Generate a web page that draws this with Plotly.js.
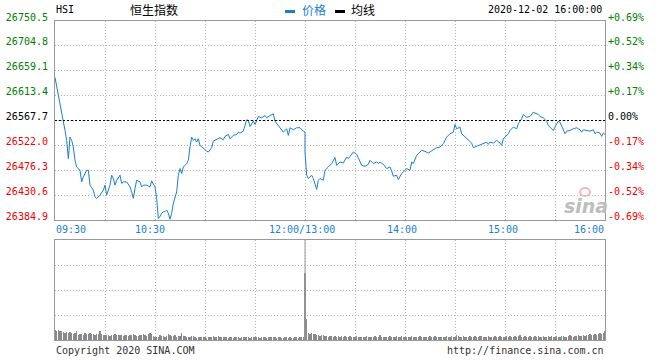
<!DOCTYPE html>
<html><head><meta charset="utf-8">
<script src="https://cdn.plot.ly/plotly-3.0.1.min.js"></script>
<style>html,body{margin:0;padding:0;background:#fff}#chart{width:660px;height:360px}</style>
</head><body><div id="chart"></div>
<script>
// ---------------- data ----------------
const indexCode = "HSI";
const indexName = "恒生指数";
const stamp = "2020-12-02 16:00:00";
const prevClose = 26567.7;

const priceTimes = ["09:30","09:32","09:33","09:34","09:35","09:36","09:37","09:38","09:39","09:40","09:41","09:42","09:43","09:45","09:46","09:47","09:49","09:50","09:51","09:53","09:54","09:55","09:57","09:59","10:00","10:01","10:03","10:04","10:05","10:06","10:07","10:09","10:10","10:11","10:13","10:15","10:16","10:17","10:18","10:19","10:21","10:22","10:23","10:25","10:27","10:28","10:29","10:30","10:31","10:32","10:33","10:34","10:35","10:36","10:37","10:38","10:39","10:40","10:41","10:43","10:44","10:45","10:46","10:47","10:49","10:50","10:51","10:52","10:53","10:54","10:55","10:56","10:57","10:59","11:01","11:02","11:04","11:05","11:07","11:09","11:11","11:12","11:14","11:15","11:17","11:19","11:20","11:21","11:23","11:24","11:25","11:26","11:27","11:29","11:30","11:32","11:34","11:36","11:37","11:39","11:41","11:42","11:44","11:46","11:47","11:49","11:50","11:51","11:53","11:55","11:57","11:59","12:00",
"13:00","13:01","13:02","13:04","13:05","13:07","13:08","13:09","13:11","13:12","13:14","13:16","13:18","13:19","13:21","13:23","13:25","13:26","13:27","13:29","13:31","13:32","13:34","13:36","13:38","13:39","13:41","13:43","13:44","13:45","13:47","13:49","13:51","13:52","13:53","13:55","13:56","13:58","13:59","14:01","14:03","14:04","14:05","14:07","14:08","14:10","14:12","14:14","14:16","14:19","14:21","14:23","14:25","14:27","14:29","14:30","14:31","14:33","14:34","14:36","14:38","14:40","14:41","14:43","14:45","14:47","14:49","14:50","14:51","14:53","14:55","14:57","14:58","14:59","15:01","15:02","15:03","15:05","15:07","15:08","15:10","15:11","15:13","15:15","15:17","15:19","15:20","15:21","15:23","15:25","15:26","15:28","15:29","15:31","15:32","15:33","15:35","15:36","15:37","15:39","15:41","15:43","15:45","15:46","15:47","15:49","15:51","15:53","15:54","15:55","15:57","15:58","15:59","16:00"];
const priceValues = [26646.9,26616.5,26598.8,26580.5,26567.7,26549.4,26531.1,26497.7,26537.2,26531.1,26518.9,26494.6,26482.3,26476.3,26454.9,26464.1,26476.3,26476.3,26448.9,26439.7,26427.5,26424.6,26430.6,26439.7,26448.9,26430.6,26448.9,26467.2,26461.1,26448.9,26458.0,26467.2,26452.0,26454.9,26454.9,26445.8,26436.6,26424.6,26442.8,26458.0,26454.9,26445.8,26448.9,26448.9,26445.8,26456.7,26450.7,26445.8,26424.6,26387.9,26390.9,26397.2,26400.1,26400.1,26403.2,26397.2,26386.2,26397.2,26415.4,26436.6,26467.2,26479.4,26470.3,26482.3,26488.5,26494.6,26518.9,26537.2,26531.1,26534.2,26528.0,26534.2,26522.0,26516.0,26511.6,26509.8,26517.8,26529.9,26532.4,26536.1,26532.4,26538.5,26542.1,26534.2,26540.3,26542.1,26546.3,26544.5,26548.1,26556.7,26569.0,26567.7,26556.7,26566.4,26560.4,26575.0,26572.6,26576.8,26572.6,26576.8,26579.9,26566.4,26558.6,26549.4,26546.3,26552.5,26540.3,26554.4,26550.7,26554.4,26554.4,26548.1,26546.3,
26509.8,26467.2,26461.1,26467.2,26461.1,26441.0,26458.0,26461.1,26458.0,26476.3,26482.3,26488.5,26499.5,26485.4,26491.5,26489.6,26500.6,26497.7,26501.9,26509.8,26505.5,26497.7,26485.4,26483.6,26487.3,26494.6,26488.5,26491.5,26488.5,26491.5,26487.3,26479.4,26482.3,26475.0,26465.3,26467.2,26459.3,26470.3,26473.2,26479.4,26476.3,26491.5,26488.5,26503.7,26506.8,26512.9,26511.0,26507.9,26512.0,26517.8,26518.9,26525.1,26537.2,26543.4,26546.3,26560.4,26552.5,26555.5,26543.4,26537.2,26532.4,26526.2,26517.8,26520.2,26523.8,26525.1,26528.0,26523.8,26528.0,26526.2,26531.1,26526.2,26522.0,26534.2,26540.3,26543.4,26549.4,26555.5,26552.5,26561.7,26570.8,26578.7,26573.7,26575.0,26582.9,26581.0,26578.7,26575.0,26572.6,26566.4,26558.6,26552.5,26549.4,26561.7,26566.4,26564.6,26552.5,26543.4,26548.1,26549.4,26552.5,26554.4,26550.7,26546.3,26550.7,26549.4,26548.1,26550.7,26543.4,26546.3,26544.5,26538.5,26544.5,26542.1];

// per-minute volume (relative units), 09:30..12:00 and 13:00..16:00
const amVolume = [10,9,10,9,9,8,7,8,7,8, 7,6,7,9,5,6,6,5,7,6, 6,7,6,6,5,6,6,9,6,5, 5,5,5,4,5,5,6,5,5,5,
 5,4,5,5,4,5,5,6,5,4, 4,5,5,6,5,4,6,7,6,4, 3,3,3,5,4,4,3,4,6,5, 4,4,5,3,4,4,7,4,4,3,
 3,3,4,4,3,2,3,3,3,3, 3,2,3,3,3,4,3,3,4,3, 3,3,3,3,2,3,3,2,3,3, 3,2,3,3,3,3,3,2,3,3,
 3,3,3,2,3,3,3,2,3,3, 3,3,3,2,3,3,2,2,3,3, 2,3,2,2,3,3,2,3,3,3, 4];
const pmVolume = [63,21,7, 6,7,6,6,5,5,4,5,5,4, 4,3,4,4,3,4,3,4,3,4, 3,4,3,3,4,3,3,3,4,3,
 3,3,3,3,4,3,3,3,3,4, 3,3,5,3,3,3,3,3,4,3, 3,3,4,3,3,4,3,3,3,3, 3,4,3,3,3,3,4,3,3,3,
 3,3,4,3,3,4,3,3,3,3, 3,3,4,3,3,4,3,3,5,4, 3,3,4,3,3,3,4,3,3,4, 3,3,4,4,3,3,3,4,3,3,
 3,4,3,3,4,3,3,3,4,3, 4,3,3,4,3,4,5,3,3,4, 3,3,4,3,3,4,3,4,3,3, 4,3,3,4,3,4,3,3,4,3,
 3,4,4,3,3,4,5,4,3,4, 4,5,4,4,5,4,5,5,6,5, 5,6,5,6,7,6,7,9];

const priceTicks = [26384.9,26430.6,26476.3,26522.0,26567.7,26613.4,26659.1,26704.8,26750.5];
const priceTickLabels = ["26384.9","26430.6","26476.3","26522.0","26567.7","26613.4","26659.1","26704.8","26750.5"];
const pctTickLabels = ["-0.69%","-0.52%","-0.34%","-0.17%","0.00%","+0.17%","+0.34%","+0.52%","+0.69%"];
const timeTickTimes = ["09:30","10:30","12:00","14:00","15:00","16:00"];
const timeTickLabels = ["09:30","10:30","12:00/13:00","14:00","15:00","16:00"];
const gridTimes = ["09:30","10:00","10:30","11:00","11:30","12:00","13:30","14:00","14:30","15:00","15:30","16:00"];
const legendNames = ["价格","均线"];
const footLeft = "Copyright 2020 SINA.COM";
const footRight = "http://finance.sina.com.cn";

// ---------------- helpers ----------------
function sessionMinute(t){
  const p = t.split(':').map(Number); const mm = p[0]*60+p[1];
  return mm <= 720 ? mm - 570 : mm - 780 + 150;
}
const W=660,H=360,ML=55,MR=55,MT=21,MB=20;
const PW=W-ML-MR, PH=H-MT-MB;
const px = x => (x-ML)/PW;
const py = y => (H-MB-y)/PH;
const GREEN='#008000', RED='#f00000', BLUE='#1a7fd0', GRID='#b4b4b4', BORDER='#9a9a9a';
const colorFor = v => v>prevClose+1e-6 ? GREEN : (v<prevClose-1e-6 ? RED : '#000');
const MONO='DejaVu Sans Mono', CJK='Noto Sans CJK SC';

const priceX = priceTimes.map(sessionMinute);
const volX = amVolume.map((v,i)=>i).concat(pmVolume.map((v,j)=>150+j));
const volY = amVolume.concat(pmVolume);

const traces = [
  {type:'bar', x:volX, y:volY, xaxis:'x2', yaxis:'y2', width:0.7,
   marker:{color:'#8a8a8a', line:{width:0}}, hoverinfo:'skip', showlegend:false},
  {type:'scatter', mode:'lines', x:priceX, y:priceValues, xaxis:'x', yaxis:'y3',
   line:{color:'rgba(0,0,0,0)', width:0}, hoverinfo:'skip', showlegend:false},
  {type:'scatter', mode:'lines', x:priceX, y:priceValues, xaxis:'x', yaxis:'y',
   line:{color:BLUE, width:1}, hoverinfo:'skip', showlegend:false}
];

const gridVals = gridTimes.map(sessionMinute);
const axBase = {showline:true, linecolor:BORDER, linewidth:1, mirror:true, zeroline:false,
  showgrid:true, gridcolor:GRID, gridwidth:1, griddash:'1px,2px', ticks:'', fixedrange:true};
const yRange = [priceTicks[0], priceTicks[priceTicks.length-1]];

const layout = {
  width:W, height:H, margin:{l:ML,r:MR,t:MT,b:MB,pad:0},
  paper_bgcolor:'#fff', plot_bgcolor:'#fff', showlegend:false, bargap:0,
  xaxis:Object.assign({}, axBase, {domain:[0,1], anchor:'y', range:[0,330], tickmode:'array', tickvals:gridVals, showticklabels:false}),
  xaxis2:Object.assign({}, axBase, {domain:[0,1], anchor:'y2', range:[0,330], tickmode:'array', tickvals:gridVals, showticklabels:false}),
  yaxis:Object.assign({}, axBase, {domain:[py(220),1], anchor:'x', range:yRange,
    tickmode:'array', tickvals:priceTicks,
    ticktext:priceTickLabels.map((t,i)=>'<span style="color:'+colorFor(priceTicks[i])+'">'+t+'</span>'),
    tickfont:{family:MONO, size:10}, ticklabelstandoff:4, ticklabelshift:-4}),
  yaxis3:{overlaying:'y', side:'right', anchor:'x', range:yRange,
    tickmode:'array', tickvals:priceTicks, showgrid:false, zeroline:false, showline:false, ticks:'',
    ticktext:pctTickLabels.map((t,i)=>'<span style="color:'+colorFor(priceTicks[i])+'">'+t+'</span>'),
    tickfont:{family:MONO, size:10}, ticklabelstandoff:2, ticklabelshift:-4, fixedrange:true},
  yaxis2:Object.assign({}, axBase, {domain:[0,py(240)], anchor:'x2', range:[0,100], tickmode:'array', tickvals:[25,50,75], showticklabels:false}),
  shapes:[
    {type:'line', xref:'x', yref:'y', x0:0, x1:330, y0:prevClose, y1:prevClose, line:{color:'#000', width:1, dash:'2px,2px'}, layer:'above'},
    {type:'line', xref:'x2', yref:'y2 domain', x0:150, x1:150, y0:0, y1:1, line:{color:BORDER, width:1}},
    {type:'rect', xref:'paper', yref:'paper', x0:px(285), x1:px(295), y0:py(13), y1:py(10), fillcolor:BLUE, line:{width:0}},
    {type:'rect', xref:'paper', yref:'paper', x0:px(335), x1:px(345), y0:py(13), y1:py(10), fillcolor:'#000', line:{width:0}}
  ],
  annotations:[]
};

const A = layout.annotations;
function note(text, x, y, xanchor, font, extra){
  A.push(Object.assign({text:text, xref:'paper', yref:'paper', x:px(x), y:py(y), xanchor:xanchor, yanchor:'middle',
    showarrow:false, borderpad:0, font:font}, extra||{}));
}
note(indexCode, 55, 10, 'left', {family:MONO, size:10, color:'#000'});
note(indexName, 154, 10, 'center', {family:CJK, size:12, color:'#000'});
note(legendNames[0], 301, 10, 'left', {family:CJK, size:12, color:BLUE});
note(legendNames[1], 350, 10, 'left', {family:CJK, size:12, color:'#000'});
note(stamp, 487, 9, 'left', {family:MONO, size:10, color:'#000'});
note(footLeft, 55, 350, 'left', {family:MONO, size:10, color:'#333'});
note(footRight, 605, 350, 'right', {family:MONO, size:10, color:'#333'});
// time labels
const tShift = [0,-5,-3,-3,-2,0];
timeTickTimes.forEach((t,i)=>{
  const xa = i===0 ? 'left' : (i===timeTickTimes.length-1 ? 'right' : 'center');
  A.push({text:timeTickLabels[i], xref:'x', yref:'paper', x:sessionMinute(t), y:py(229), xanchor:xa, yanchor:'middle',
    xshift:tShift[i], showarrow:false, borderpad:0, font:{family:MONO, size:10, color:BLUE}});
});
// watermark
A.push({text:'sina', xref:'paper', yref:'paper', x:px(586), y:py(206), xanchor:'center', yanchor:'middle', showarrow:false,
  font:{family:'DejaVu Sans', size:19, color:'#bdbdbd', weight:'bold', style:'italic'}});
layout.shapes.push({type:'circle', xref:'paper', yref:'paper', x0:px(580), x1:px(590), y0:py(196), y1:py(188), line:{color:'#f2b8b8', width:2}});

Plotly.newPlot('chart', traces, layout, {displayModeBar:false, staticPlot:true});
</script>
</body></html>
